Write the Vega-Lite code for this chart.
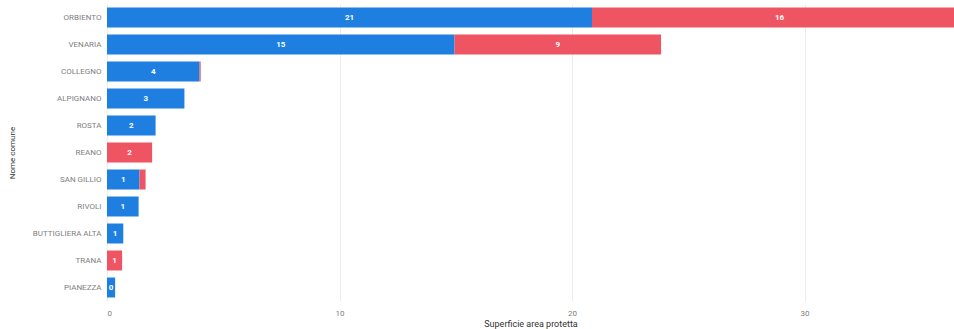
{
  "$schema": "https://vega.github.io/schema/vega-lite/v6.json",
  "width": 847,
  "height": 297,
  "autosize": "none",
  "padding": {"left": 107, "top": 4, "right": 0, "bottom": 28},
  "background": "white",
  "config": {
    "font": "Roboto",
    "view": {"stroke": null},
    "axis": {"labelColor": "#808080", "labelFontSize": 8, "titleColor": "#333", "titleFontSize": 9, "titleFontWeight": "normal"}
  },
  "data": {
    "values": [
      {"comune": "ORBIENTO", "tipo": "Categoria 1", "valore": 20.86},
      {"comune": "ORBIENTO", "tipo": "Categoria 2", "valore": 16.14},
      {"comune": "VENARIA", "tipo": "Categoria 1", "valore": 14.95},
      {"comune": "VENARIA", "tipo": "Categoria 2", "valore": 8.88},
      {"comune": "COLLEGNO", "tipo": "Categoria 1", "valore": 3.98},
      {"comune": "COLLEGNO", "tipo": "Categoria 2", "valore": 0.05},
      {"comune": "ALPIGNANO", "tipo": "Categoria 1", "valore": 3.33},
      {"comune": "ROSTA", "tipo": "Categoria 1", "valore": 2.09},
      {"comune": "REANO", "tipo": "Categoria 2", "valore": 1.94},
      {"comune": "SAN GILLIO", "tipo": "Categoria 1", "valore": 1.4},
      {"comune": "SAN GILLIO", "tipo": "Categoria 2", "valore": 0.26},
      {"comune": "RIVOLI", "tipo": "Categoria 1", "valore": 1.36},
      {"comune": "BUTTIGLIERA ALTA", "tipo": "Categoria 1", "valore": 0.7},
      {"comune": "TRANA", "tipo": "Categoria 2", "valore": 0.65},
      {"comune": "PIANEZZA", "tipo": "Categoria 1", "valore": 0.35}
    ]
  },
  "transform": [
    {"stack": "valore", "groupby": ["comune"], "sort": [{"field": "tipo", "order": "ascending"}], "as": ["v0", "v1"]}
  ],
  "encoding": {
    "y": {
      "field": "comune",
      "type": "nominal",
      "sort": ["ORBIENTO", "VENARIA", "COLLEGNO", "ALPIGNANO", "ROSTA", "REANO", "SAN GILLIO", "RIVOLI", "BUTTIGLIERA ALTA", "TRANA", "PIANEZZA"],
      "scale": {"paddingInner": 0.26, "paddingOuter": 0.13},
      "axis": {"title": "Nome comune", "ticks": false, "domain": false, "labelPadding": 6, "titleX": -91, "titleAnchor": "middle", "titleFontSize": 8}
    }
  },
  "layer": [
    {
      "mark": {"type": "bar", "clip": true},
      "encoding": {
        "x": {
          "field": "v0",
          "type": "quantitative",
          "scale": {"domain": [0, 36.43], "nice": false},
          "axis": {"title": "Superficie area protetta", "values": [0, 10, 20, 30], "tickSize": 0, "domain": false, "labelPadding": 8, "titlePadding": 2, "gridColor": "#ececec", "gridWidth": 1}
        },
        "x2": {"field": "v1"},
        "color": {
          "field": "tipo",
          "type": "nominal",
          "scale": {"domain": ["Categoria 1", "Categoria 2"], "range": ["#1E7FE0", "#EE5462"]},
          "legend": null
        }
      }
    },
    {
      "transform": [
        {"filter": "datum.valore >= 0.3"},
        {"fold": ["v0", "v1"], "as": ["estremo", "pos"]}
      ],
      "mark": {"type": "text", "color": "white", "fontSize": 8, "fontWeight": "bold", "baseline": "middle", "align": "center"},
      "encoding": {
        "x": {"field": "pos", "type": "quantitative", "aggregate": "mean"},
        "detail": {"field": "tipo"},
        "text": {"field": "valore", "type": "quantitative", "aggregate": "max", "format": ".0f"}
      }
    }
  ]
}
